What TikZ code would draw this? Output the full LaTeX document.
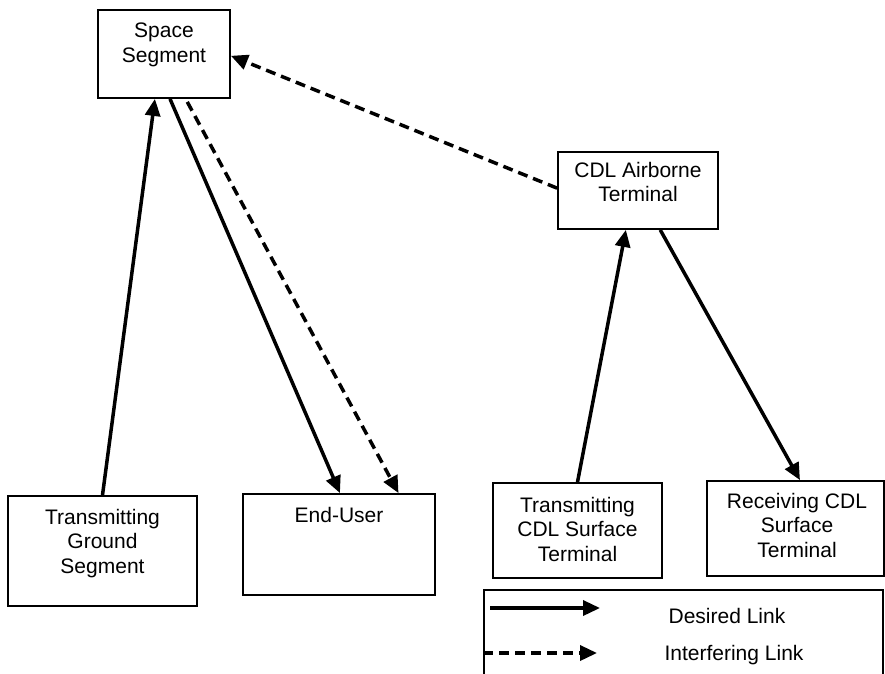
\documentclass[tikz,border=0pt]{standalone}
\usepackage{fontspec}
\setmainfont{Liberation Sans}
\usetikzlibrary{arrows.meta,calc}
\begin{document}
\begin{tikzpicture}[x=1pt,y=-1pt,
  box/.style={draw=black,line width=1.8pt,rectangle,inner sep=0pt},
  txt/.style={anchor=north,inner sep=0pt,align=center,font=\fontsize{21}{24.3}\selectfont},
  legtxt/.style={anchor=center,inner sep=0pt,font=\fontsize{21}{24}\selectfont},
  desired/.style={line width=3.5pt,-{Triangle[length=17pt,width=15pt]}},
  interf/.style={line width=3.5pt,dash pattern=on 10pt off 6pt,-{Triangle[length=17pt,width=15pt]}}
]
\clip (0,0) rectangle (885,673);
\fill[white] (0,0) rectangle (885,673);

% boxes
\node[box,minimum width=132pt,minimum height=88pt] (ss) at (164,54) {};
\node[box,minimum width=160pt,minimum height=77pt] (cdl) at (638,190.5) {};
\node[box,minimum width=189pt,minimum height=110pt] (tgs) at (102.5,551) {};
\node[box,minimum width=192pt,minimum height=101pt] (eu) at (339,544.5) {};
\node[box,minimum width=169pt,minimum height=95pt] (tcst) at (577.5,530.5) {};
\node[box,minimum width=177pt,minimum height=95pt] (rcst) at (795.5,528.5) {};

% texts
\node[txt] (ssT) at (164,23) {Space\\Segment};
\node[txt] (cdlT) at (638,162) {CDL Airborne\\Terminal};
\node[txt] (tgsT) at (102.5,509) {Transmitting\\Ground\\Segment};
\node[txt] (euT) at (339,507) {End-User};
\node[txt] (tcstT) at (577.5,497) {Transmitting\\CDL Surface\\Terminal};
\node[txt] (rcstT) at (797,493) {Receiving CDL\\Surface\\Terminal};

% connectors
\draw[desired] (tgs.north) -- ($(ss.south west)!0.432!(ss.south east)$);
\draw[desired] ($(ss.south west)!0.545!(ss.south east)$) -- ($(eu.north west)!0.505!(eu.north east)$);
\draw[interf] ($(ss.south west)!0.674!(ss.south east)+(0,3)$) -- ($(eu.north west)!0.807!(eu.north east)$);
\draw[interf] ($(cdl.north west)!0.47!(cdl.south west)$) -- ($(ss.north east)!0.52!(ss.south east)$);
\draw[desired] (tcst.north) -- ($(cdl.south west)!0.425!(cdl.south east)$);
\draw[desired] ($(cdl.south west)!0.6375!(cdl.south east)$) -- ($(rcst.north west)!0.525!(rcst.north east)$);

% legend
\node[box,minimum width=399pt,minimum height=120pt,anchor=north west] (leg) at (483,589) {};
\coordinate (d1) at (490,608);
\coordinate (d2) at (600,608);
\coordinate (i1) at (483,653);
\coordinate (i2) at (597,653);
\draw[desired] (d1) -- (d2);
\draw[interf] (i1) -- (i2);
\node[legtxt] (dl) at (727,616) {Desired Link};
\node[legtxt] (il) at (734,655) {Interfering Link};
\end{tikzpicture}
\end{document}
